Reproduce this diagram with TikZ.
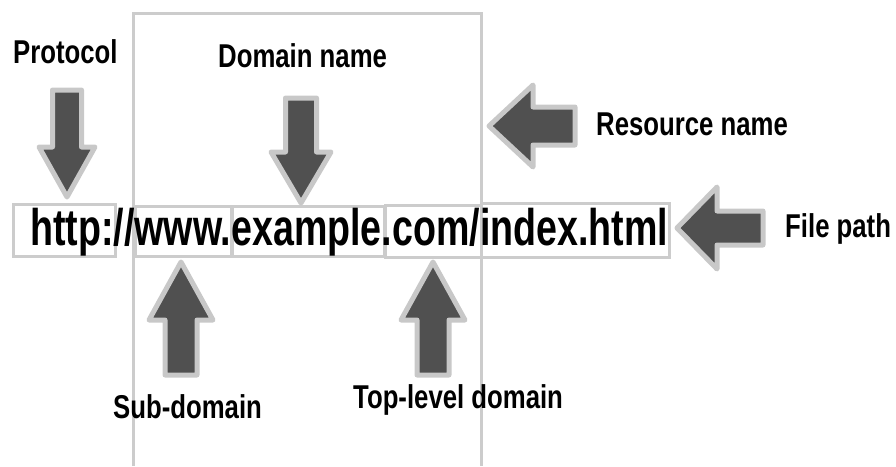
\documentclass[tikz,border=0pt]{standalone}
\usepackage{fontspec}
\setmainfont{Liberation Sans}
\newfontfamily\urlfont[FakeStretch=0.73]{Liberation Sans}
\newfontfamily\lblfont[FakeStretch=0.78]{Liberation Sans}
\usetikzlibrary{positioning}
\definecolor{urlGray}{RGB}{204,204,204}
\definecolor{arrowDark}{RGB}{80,80,80}
\definecolor{arrowRim}{RGB}{200,200,200}

\begin{document}
\begin{tikzpicture}[x=1pt, y=-1pt,
    every node/.style={inner sep=0pt},
    urlbox/.style={draw=urlGray, line width=3pt},
    lbl/.style={anchor=base west, font=\lblfont\bfseries\fontsize{33}{36}\selectfont},
    blockarrow/.style={fill=arrowDark, draw=arrowRim, line width=5pt, line join=round}]
    \useasboundingbox (0,0) rectangle (896,466);
    % frame round the host part
    \draw[urlGray, line width=3pt] (133,466) -- (133,13) -- (481,13) -- (481,466);
    % boxes round the parts of the address
    \node[urlbox, minimum width=102, minimum height=52] (httpbox) at (64,230) {};
    \node[urlbox, minimum width=96, minimum height=50] (wwwbox) at (183,231) {};
    \node[urlbox, minimum width=152, minimum height=50] (exbox) at (308,231) {};
    \node[urlbox, minimum width=96, minimum height=52] (combox) at (433,231) {};
    \node[urlbox, minimum width=188, minimum height=54] (idxbox) at (575,230) {};
    \node[anchor=base west, font=\urlfont\bfseries\fontsize{51.5}{60}\selectfont] (url) at (30,245)
        {http://www.example.com/index.html};
    % labels
    \node[lbl] (protocol) at (13,63) {Protocol};
    \node[lbl] (domain) at (218,67) {Domain name};
    \node[lbl] (resource) at (596,135) {Resource name};
    \node[lbl] (filepath) at (785,237) {File path};
    \node[lbl] (subdomain) at (113,418) {Sub-domain};
    \node[lbl] (tld) at (353,408) {Top-level domain};
    % block arrows: tip x/tip y/angle/length/head length/head half/shaft half
    \foreach \tx/\ty/\rot/\len/\hl/\hh/\sh in {67/197/-90/107/50/28/14.5,
            301/203/-90/105/51/30/15.5, 489/126/180/86/44/41/19,
            677/228/180/86/40/41/17, 181/262/90/113/58/32/16,
            433/262/90/113/58/32/16} {
        \draw[blockarrow, shift={(\tx,\ty)}, rotate=\rot]
            (0,0) -- (-\hl,\hh) -- (-\hl,\sh) -- (-\len,\sh)
            -- (-\len,-\sh) -- (-\hl,-\sh) -- (-\hl,-\hh) -- cycle;
    }
\end{tikzpicture}
\end{document}
